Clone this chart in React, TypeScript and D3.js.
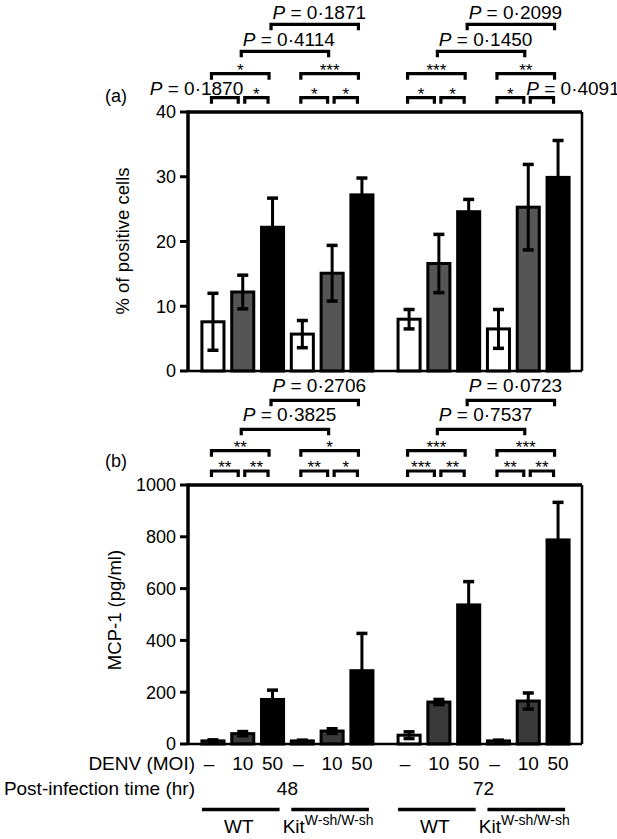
import React from 'react';
import * as d3 from 'd3';

// ---------- data ----------
const timeGroups = ['48', '72'];
const strains = ['WT', 'Kit'];
const doses = ['–', '10', '50'];

// bar order: 48h WT (–,10,50), 48h Kit, 72h WT, 72h Kit
const pctMean = [7.6, 12.2, 22.2, 5.7, 15.1, 27.2, 8.0, 16.6, 24.6, 6.5, 25.3, 29.9];
const pctSD = [4.4, 2.6, 4.5, 2.1, 4.3, 2.6, 1.5, 4.5, 1.9, 3.0, 6.6, 5.7];
const mcpMean = [12, 40, 172, 12, 50, 283, 34, 162, 537, 12, 166, 788];
const mcpSD = [4, 8, 36, 3, 9, 144, 13, 10, 90, 3, 31, 145];

const pctTicks = [0, 10, 20, 30, 40];
const mcpTicks = [0, 200, 400, 600, 800, 1000];

type Comp = { a: number; b: number; level: number; star?: string; p?: string };

const pctComparisons: Comp[] = [
  { a: 0, b: 1, level: 0, p: '0·1870' },
  { a: 1, b: 2, level: 0, star: '*' },
  { a: 3, b: 4, level: 0, star: '*' },
  { a: 4, b: 5, level: 0, star: '*' },
  { a: 6, b: 7, level: 0, star: '*' },
  { a: 7, b: 8, level: 0, star: '*' },
  { a: 9, b: 10, level: 0, star: '*' },
  { a: 10, b: 11, level: 0, p: '0·4091' },
  { a: 0, b: 2, level: 1, star: '*' },
  { a: 3, b: 5, level: 1, star: '***' },
  { a: 6, b: 8, level: 1, star: '***' },
  { a: 9, b: 11, level: 1, star: '**' },
  { a: 1, b: 4, level: 2, p: '0·4114' },
  { a: 7, b: 10, level: 2, p: '0·1450' },
  { a: 2, b: 5, level: 3, p: '0·1871' },
  { a: 8, b: 11, level: 3, p: '0·2099' },
];

const mcpComparisons: Comp[] = [
  { a: 0, b: 1, level: 0, star: '**' },
  { a: 1, b: 2, level: 0, star: '**' },
  { a: 3, b: 4, level: 0, star: '**' },
  { a: 4, b: 5, level: 0, star: '*' },
  { a: 6, b: 7, level: 0, star: '***' },
  { a: 7, b: 8, level: 0, star: '**' },
  { a: 9, b: 10, level: 0, star: '**' },
  { a: 10, b: 11, level: 0, star: '**' },
  { a: 0, b: 2, level: 1, star: '**' },
  { a: 3, b: 5, level: 1, star: '*' },
  { a: 6, b: 8, level: 1, star: '***' },
  { a: 9, b: 11, level: 1, star: '***' },
  { a: 1, b: 4, level: 2, p: '0·3825' },
  { a: 7, b: 10, level: 2, p: '0·7537' },
  { a: 2, b: 5, level: 3, p: '0·2706' },
  { a: 8, b: 11, level: 3, p: '0·0723' },
];

// ---------- layout ----------
const W = 617;
const H = 839;
const X0 = 188;
const X1 = 582;
const FONT = '"Liberation Sans", Arial, Helvetica, sans-serif';

const panels = [
  {
    key: 'a', label: '(a)', labelY: 101.5, top: 112, bottom: 371, domain: [0, 40],
    ticks: pctTicks, mean: pctMean, sd: pctSD, title: '% of positive cells',
    titleX: 129, titleY: 241, gray: '#555555',
    levels: [97.7, 73.7, 51.3, 24.3], pOffset: -5.5, comps: pctComparisons,
  },
  {
    key: 'b', label: '(b)', labelY: 467, top: 485, bottom: 744, domain: [0, 1000],
    ticks: mcpTicks, mean: mcpMean, sd: mcpSD, title: 'MCP-1 (pg/ml)',
    titleX: 121, titleY: 610, gray: '#3a3a3a',
    levels: [471, 450.7, 429.3, 400.3], pOffset: -8.7, comps: mcpComparisons,
  },
];

export default function App() {
  const outer = d3.scaleBand<string>().domain(timeGroups).range([X0, X1 + 1])
    .paddingInner(0.128).paddingOuter(0.071);
  const inner = d3.scaleBand<number>().domain(d3.range(6)).range([0, outer.bandwidth()])
    .paddingInner(0.26).paddingOuter(0);
  const bw = inner.bandwidth();
  const barX = (i: number) => (outer(timeGroups[Math.floor(i / 6)]) as number) + (inner(i % 6) as number);
  const cx = (i: number) => barX(i) + bw / 2;
  const bars = d3.range(12);
  const doseFill = (i: number, gray: string) => ['#ffffff', gray, '#000000'][i % 3];

  const subgroups = d3.range(4); // 48WT, 48Kit, 72WT, 72Kit

  return (
    <svg width={W} height={H} style={{ position: 'absolute', left: 0, top: 0, background: '#fff' }}
      fontFamily={FONT}>
      <rect x={0} y={0} width={W} height={H} fill="#fff" />
      {panels.map((pn) => {
        const y = d3.scaleLinear().domain(pn.domain).range([pn.bottom, pn.top]);
        const capW = 11;
        return (
          <g key={pn.key}>
            {/* bars */}
            {bars.map((i) => {
              const yt = y(pn.mean[i]);
              return (
                <rect key={'bar' + i} x={barX(i)} y={yt} width={bw} height={pn.bottom - yt}
                  fill={doseFill(i, pn.gray)} stroke="#000" strokeWidth={3} />
              );
            })}
            {/* error bars */}
            {bars.map((i) => {
              const hi = y(pn.mean[i] + pn.sd[i]);
              const lo = y(Math.max(0, pn.mean[i] - pn.sd[i]));
              const c = cx(i);
              return (
                <g key={'err' + i} stroke="#000">
                  <line x1={c} x2={c} y1={hi} y2={lo} strokeWidth={3} />
                  <line x1={c - capW / 2} x2={c + capW / 2} y1={hi} y2={hi} strokeWidth={3.5} />
                  <line x1={c - capW / 2} x2={c + capW / 2} y1={lo} y2={lo} strokeWidth={3.5} />
                </g>
              );
            })}
            {/* frame */}
            <line x1={X0} x2={X1} y1={pn.top} y2={pn.top} stroke="#000" strokeWidth={3.5} />
            <line x1={X1} x2={X1} y1={pn.top} y2={pn.bottom} stroke="#000" strokeWidth={2.5} />
            <line x1={X0} x2={X1} y1={pn.bottom} y2={pn.bottom} stroke="#000" strokeWidth={2.5} />
            <line x1={X0} x2={X0} y1={pn.top - 1.5} y2={pn.bottom + 1} stroke="#000" strokeWidth={3.5} />
            {/* ticks */}
            {pn.ticks.map((t) => (
              <g key={'t' + t}>
                <line x1={X0 - 8} x2={X0} y1={y(t)} y2={y(t)} stroke="#000" strokeWidth={3} />
                <text x={X0 - 12} y={y(t)} dy="0.36em" textAnchor="end" fontSize={18}>{t}</text>
              </g>
            ))}
            {/* y title */}
            <text transform={`translate(${pn.titleX},${pn.titleY}) rotate(-90)`} textAnchor="middle"
              fontSize={18.5}>{pn.title}</text>
            {/* panel label */}
            <text x={105} y={pn.labelY} fontSize={18}>{pn.label}</text>
            {/* comparison brackets */}
            {pn.comps.map((cmp, k) => {
              const ly = pn.levels[cmp.level];
              let x1: number, x2: number;
              if (cmp.level === 0) {
                x1 = cx(cmp.a) + (cmp.a % 3 === 1 ? 2 : -1.5);
                x2 = cx(cmp.b) - 4.5;
              } else {
                x1 = cx(cmp.a) - 1.5;
                x2 = cx(cmp.b) - 3.5;
              }
              const leg = 6;
              let label: React.ReactNode = null;
              if (cmp.star) {
                label = (
                  <text x={(x1 + x2) / 2} y={ly + 2} textAnchor="middle" fontSize={17}>{cmp.star}</text>
                );
              } else if (cmp.p) {
                let tx: number, ty: number, anchor: string;
                if (cmp.level === 0) {
                  ty = ly - 2.5;
                  if (cmp.a % 6 === 0) { tx = x2 + 5; anchor = 'end'; } else { tx = x1 - 4; anchor = 'start'; }
                } else {
                  ty = ly + pn.pOffset;
                  tx = x1 + 1.5;
                  anchor = 'start';
                }
                label = (
                  <text x={tx} y={ty} textAnchor={anchor} fontSize={19}>
                    <tspan fontStyle="italic">P</tspan>
                    <tspan>{' = ' + cmp.p}</tspan>
                  </text>
                );
              }
              return (
                <g key={'c' + k}>
                  <path d={`M${x1},${ly + leg}V${ly}H${x2}V${ly + leg}`} fill="none" stroke="#000"
                    strokeWidth={3.2} />
                  {label}
                </g>
              );
            })}
          </g>
        );
      })}
      {/* bottom annotation rows */}
      <text x={195} y={770} textAnchor="end" fontSize={19}>DENV (MOI)</text>
      {bars.map((i) => (
        <text key={'d' + i} x={cx(i) - (i % 3 === 0 ? 4 : 0)} y={770} textAnchor="middle" fontSize={19}>
          {doses[i % 3]}
        </text>
      ))}
      <text x={195} y={795} textAnchor="end" fontSize={19}>Post-infection time (hr)</text>
      {timeGroups.map((g) => (
        <text key={'g' + g} x={(outer(g) as number) + outer.bandwidth() / 2} y={795} textAnchor="middle"
          fontSize={19}>{g}</text>
      ))}
      {subgroups.map((s) => {
        const first = s * 3;
        const last = s * 3 + 2;
        const xa = barX(first);
        const xb = barX(last) + bw - 4;
        const mid = (barX(first) + barX(last) + bw) / 2 - 4;
        const strain = strains[s % 2];
        return (
          <g key={'s' + s}>
            <line x1={xa} x2={xb} y1={809.5} y2={809.5} stroke="#000" strokeWidth={3.5} />
            {strain === 'WT' ? (
              <text x={mid} y={833} textAnchor="middle" fontSize={19}>WT</text>
            ) : (
              <text x={mid} y={833} textAnchor="middle" fontSize={19}>
                <tspan>Kit</tspan>
                <tspan fontSize={14} dy={-8}>W-sh/W-sh</tspan>
              </text>
            )}
          </g>
        );
      })}
    </svg>
  );
}
